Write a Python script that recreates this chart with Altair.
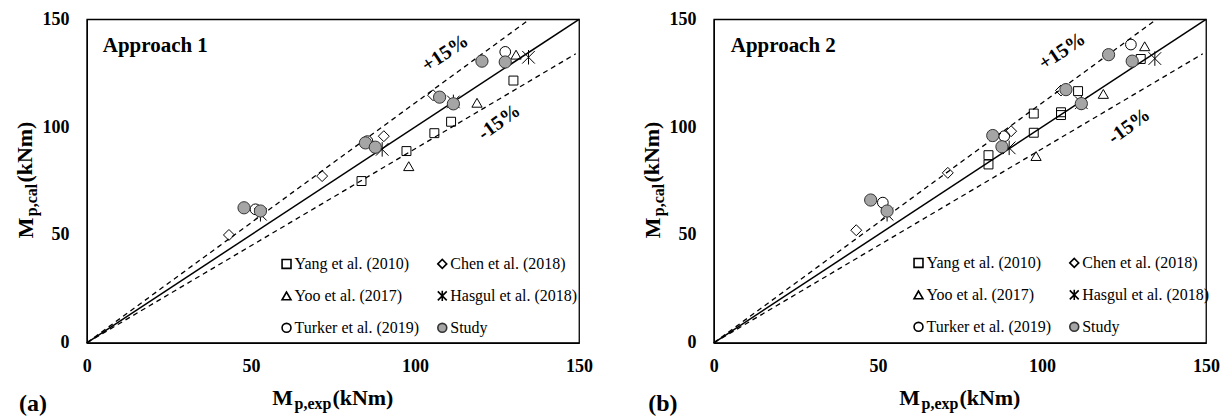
import altair as alt
import pandas as pd

FONT = "Liberation Serif"

series_names = ["Yang et al. (2010)", "Chen et al. (2018)", "Yoo et al. (2017)",
                "Hasgul et al. (2018)", "Turker et al. (2019)", "Study"]
# legend fills column by column: first column Yang, Yoo, Turker; second Chen, Hasgul, Study
legend_order = ["Yang et al. (2010)", "Yoo et al. (2017)", "Turker et al. (2019)",
                "Chen et al. (2018)", "Hasgul et al. (2018)", "Study"]

# ---------------- Approach 1 (a) ----------------
a_yang_x = [83.7, 97.4, 105.9, 111.0, 130.0]
a_yang_y = [75.0, 88.9, 97.2, 102.5, 121.6]
a_chen_x = [43.3, 71.7, 90.5, 105.5]
a_chen_y = [50.0, 77.3, 95.8, 114.8]
a_yoo_x = [98.1, 118.9, 130.8]
a_yoo_y = [81.9, 111.3, 133.6]
a_hasgul_x = [52.9, 90.0, 111.7, 134.6]
a_hasgul_y = [59.6, 89.7, 111.7, 132.4]
a_turker_x = [51.4, 85.5, 127.5]
a_turker_y = [61.9, 93.5, 134.9]
a_study_x = [47.9, 52.9, 84.9, 87.9, 107.5, 111.7, 120.4, 127.5]
a_study_y = [62.6, 61.1, 92.7, 90.7, 113.9, 110.8, 130.6, 130.2]

# ---------------- Approach 2 (b) ----------------
b_yang_x = [83.7, 83.7, 97.5, 97.5, 105.8, 105.8, 111.0, 130.1]
b_yang_y = [87.0, 82.7, 106.3, 97.4, 106.9, 105.6, 116.7, 131.6]
b_chen_x = [43.4, 71.3, 90.6, 105.8]
b_chen_y = [52.2, 78.8, 98.1, 117.0]
b_yoo_x = [98.2, 118.7, 131.3]
b_yoo_y = [86.6, 115.4, 137.5]
b_hasgul_x = [52.8, 90.0, 112.0, 134.4]
b_hasgul_y = [59.6, 90.4, 111.3, 131.8]
b_turker_x = [51.5, 88.5, 127.1]
b_turker_y = [65.0, 95.8, 138.3]
b_study_x = [47.8, 52.8, 85.0, 87.8, 107.3, 112.0, 120.3, 127.5]
b_study_y = [66.2, 61.1, 96.1, 90.9, 117.4, 110.9, 133.6, 130.6]

# reference lines (start at origin, end points)
line_names = ["1:1", "+15%", "-15%"]
line_end_x = [150, 134, 149]
line_end_y = [150, 149, 134]

tick_values = [0, 50, 100, 150]

# ---------------- styles ----------------
ASTERISK = "M-1,-1L1,1M-1,1L1,-1M0,-1.15L0,1.15"
shape_of = {"Yang et al. (2010)": "square", "Chen et al. (2018)": "diamond",
            "Yoo et al. (2017)": "triangle-up", "Hasgul et al. (2018)": ASTERISK,
            "Turker et al. (2019)": "circle", "Study": "circle"}
fill_of = {n: "transparent" for n in series_names}
fill_of["Study"] = "#a5a5a5"
stroke_of = {n: "black" for n in series_names}
stroke_of["Study"] = "#333333"
marker_size = {"Yang et al. (2010)": 80, "Chen et al. (2018)": 120, "Yoo et al. (2017)": 105,
               "Hasgul et al. (2018)": 160, "Turker et al. (2019)": 115, "Study": 150}


def points_df(groups):
    rows = []
    for name, xs, ys in groups:
        for x, y in zip(xs, ys):
            rows.append({"series": name, "x": x, "y": y, "msize": marker_size[name],
                         "ord": series_names.index(name)})
    return pd.DataFrame(rows)


def lines_df():
    rows = []
    for n, ex, ey in zip(line_names, line_end_x, line_end_y):
        rows.append({"line": n, "x": 0, "y": 0})
        rows.append({"line": n, "x": ex, "y": ey})
    return pd.DataFrame(rows)


def text_layer(text, px, py, size, angle=0, align="center", baseline="middle", weight="bold"):
    return alt.Chart(pd.DataFrame({"t": [text]})).mark_text(
        text=text, font=FONT, fontSize=size, fontWeight=weight, angle=angle,
        align=align, baseline=baseline, color="black"
    ).encode(x=alt.value(px), y=alt.value(py))


def panel(groups, approach, panel_label, pos, legend_xy, add_bounds=False):
    xenc = alt.X("x:Q", scale=alt.Scale(domain=[0, 150], nice=False, zero=False),
                 axis=alt.Axis(values=tick_values, title=None, labelFlush=False,
                               labelPadding=15, labelOverlap=False))
    yenc = alt.Y("y:Q", scale=alt.Scale(domain=[0, 150], nice=False, zero=False),
                 axis=alt.Axis(values=tick_values, title=None, labelPadding=18,
                               labelOverlap=False))
    ldf = lines_df()
    solid = alt.Chart(ldf[ldf.line == "1:1"]).mark_line(color="black", strokeWidth=1.5).encode(
        x=xenc, y=yenc, detail="line:N")
    dashed = alt.Chart(ldf[ldf.line != "1:1"]).mark_line(
        color="black", strokeWidth=1.3, strokeDash=[5, 4]).encode(x=xenc, y=yenc, detail="line:N")

    leg = alt.Legend(title=None, orient="none", legendX=legend_xy[0], legendY=legend_xy[1],
                     columns=2, columnPadding=15, rowPadding=15, padding=0,
                     symbolSize=80, symbolStrokeWidth=1.6,
                     labelFont=FONT, labelFontSize=16, labelColor="black", labelOffset=0,
                     labelLimit=300)
    pts = alt.Chart(points_df(groups)).mark_point(
        filled=True, strokeWidth=1, opacity=1).encode(
        x=xenc, y=yenc,
        shape=alt.Shape("series:N", scale=alt.Scale(domain=legend_order,
                        range=[shape_of[n] for n in legend_order]), legend=leg),
        fill=alt.Fill("series:N", scale=alt.Scale(domain=legend_order,
                      range=[fill_of[n] for n in legend_order]), legend=leg),
        stroke=alt.Stroke("series:N", scale=alt.Scale(domain=legend_order,
                          range=[stroke_of[n] for n in legend_order]), legend=leg),
        size=alt.Size("msize:Q", scale=None),
        order=alt.Order("ord:Q"),
    )

    layers = [solid, dashed, pts,
              text_layer(approach, pos["ap"][0], pos["ap"][1], 21, align="left", baseline="alphabetic"),
              text_layer("+15%", pos["plus"][0], pos["plus"][1], 20, angle=326),
              text_layer("-15%", pos["minus"][0], pos["minus"][1], 20, angle=324),
              # y title: M_{p,cal} (kNm)
              text_layer("M", -61, 209, 22, angle=270),
              text_layer("p,cal", -55, 181, 16, angle=270),
              text_layer("(kNm)", -62, 133, 22, angle=270),
              # x title: M_{p,exp} (kNm)
              text_layer("M", 196, 386, 22, baseline="alphabetic"),
              text_layer("p,exp", 226.5, 390, 16, baseline="alphabetic"),
              text_layer("(kNm)", 276.5, 386, 22, baseline="alphabetic"),
              text_layer(panel_label, pos["lab"][0], pos["lab"][1], 24),
              ]
    if add_bounds:
        layers.append(alt.Chart(pd.DataFrame({"k": [0]})).mark_rule(opacity=0, color="white").encode(
            x=alt.value(-86), x2=alt.value(1144), y=alt.value(-18), y2=alt.value(402)))
    return alt.layer(*layers).properties(width=493, height=324)


groups_a = [
    ("Yang et al. (2010)", a_yang_x, a_yang_y),
    ("Chen et al. (2018)", a_chen_x, a_chen_y),
    ("Yoo et al. (2017)", a_yoo_x, a_yoo_y),
    ("Hasgul et al. (2018)", a_hasgul_x, a_hasgul_y),
    ("Turker et al. (2019)", a_turker_x, a_turker_y),
    ("Study", a_study_x, a_study_y),
]
groups_b = [
    ("Yang et al. (2010)", b_yang_x, b_yang_y),
    ("Chen et al. (2018)", b_chen_x, b_chen_y),
    ("Yoo et al. (2017)", b_yoo_x, b_yoo_y),
    ("Hasgul et al. (2018)", b_hasgul_x, b_hasgul_y),
    ("Turker et al. (2019)", b_turker_x, b_turker_y),
    ("Study", b_study_x, b_study_y),
]

p1 = panel(groups_a, "Approach 1", "(a)",
           {"ap": (16, 33), "plus": (359, 34), "minus": (413, 103), "lab": (-54, 385)},
           (192, 237), add_bounds=True)
p2 = panel(groups_b, "Approach 2", "(b)",
           {"ap": (17, 33), "plus": (349, 32), "minus": (416, 107), "lab": (-51, 385)},
           (197, 236))

chart = alt.hconcat(p1, p2, spacing=135, bounds="flush").resolve_scale(
    shape="independent", fill="independent", stroke="independent"
).resolve_legend(shape="independent", fill="independent", stroke="independent").properties(
    padding=0, background="white"
).configure_view(stroke="black", strokeWidth=1.3).configure_axis(
    domainColor="black", domainWidth=1.3, ticks=False, tickSize=0, grid=False,
    labelFont=FONT, labelFontSize=18, labelFontWeight="bold", labelColor="black"
)

chart.save("out.html", embed_options={"renderer": "svg", "actions": False})
